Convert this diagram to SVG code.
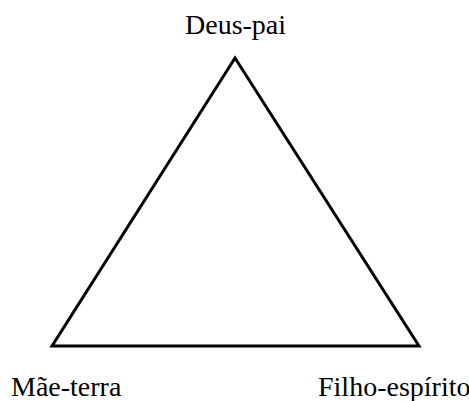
<svg xmlns="http://www.w3.org/2000/svg" width="469" height="401" viewBox="0 0 469 401">
<rect width="469" height="401" fill="#fff"/>
<g id="connectors">
<polygon points="235,58 52,346 419,346" fill="none" stroke="#000" stroke-width="3"/>
</g>
<g id="deus-pai"><text x="185" y="34" font-family="Liberation Serif" font-size="28">Deus-pai</text></g>
<g id="mae-terra"><text x="11" y="396" font-family="Liberation Serif" font-size="28">M&#227;e-terra</text></g>
<g id="filho-espirito"><text x="318" y="396" font-family="Liberation Serif" font-size="28">Filho-esp&#237;rito</text></g>
</svg>
